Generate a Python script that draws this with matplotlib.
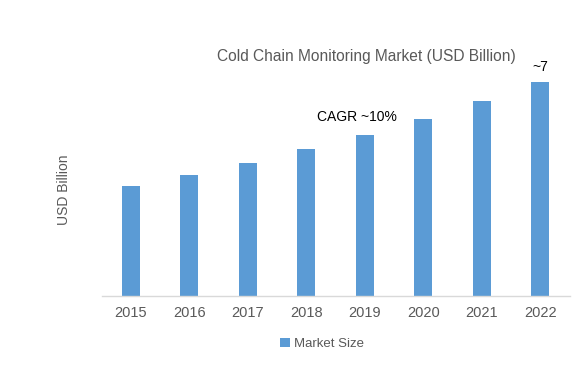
import matplotlib
matplotlib.use("Agg")
import matplotlib.pyplot as plt

years = ["2015", "2016", "2017", "2018", "2019", "2020", "2021", "2022"]
market_size = [3.6, 3.96, 4.35, 4.8, 5.27, 5.78, 6.37, 7.0]

BLUE = "#5b9bd5"
GREY = "#595959"

plt.rcParams["font.family"] = ["Liberation Sans", "DejaVu Sans"]

fig = plt.figure(figsize=(5.75, 3.67), dpi=100)
W, H = 575, 367
ax = fig.add_axes([101.7 / W, (H - 296) / H, (569.5 - 101.7) / W, (296 - 40) / H])

x = range(len(years))
ax.bar(x, market_size, width=0.31, color=BLUE, label="Market Size", zorder=2)
ax.set_xlim(-0.5, len(years) - 0.5)
ax.set_ylim(0, 7.0 * 256 / 214)
ax.set_xticks(list(x))
ax.set_xticklabels(years, fontsize=10.5, color=GREY)
ax.tick_params(axis="x", length=0, pad=7)
ax.set_yticks([])
for s in ("top", "right", "left"):
    ax.spines[s].set_visible(False)
ax.spines["bottom"].set_color("#d9d9d9")
ax.spines["bottom"].set_linewidth(1)

fig.text(366 / W, 1 - 57 / H, "Cold Chain Monitoring Market (USD Billion)",
         fontsize=11.2, color=GREY, ha="center", va="center")
ax.annotate("~7", (7, market_size[7]), xytext=(0, 11), textcoords="offset points",
            ha="center", va="center", fontsize=10, color="black")
fig.text(357 / W, 1 - 117 / H, "CAGR ~10%", fontsize=10, color="black",
         ha="center", va="center")
fig.text(64 / W, 1 - 190 / H, "USD Billion", rotation=90, fontsize=10,
         color=GREY, ha="center", va="center")

fig.legend(loc="center", bbox_to_anchor=(322 / W, 1 - 344 / H), frameon=False,
           fontsize=9.5, labelcolor=GREY, handlelength=0.7, handleheight=0.7,
           handletextpad=0.3)

fig.savefig("out.png", dpi=100)
